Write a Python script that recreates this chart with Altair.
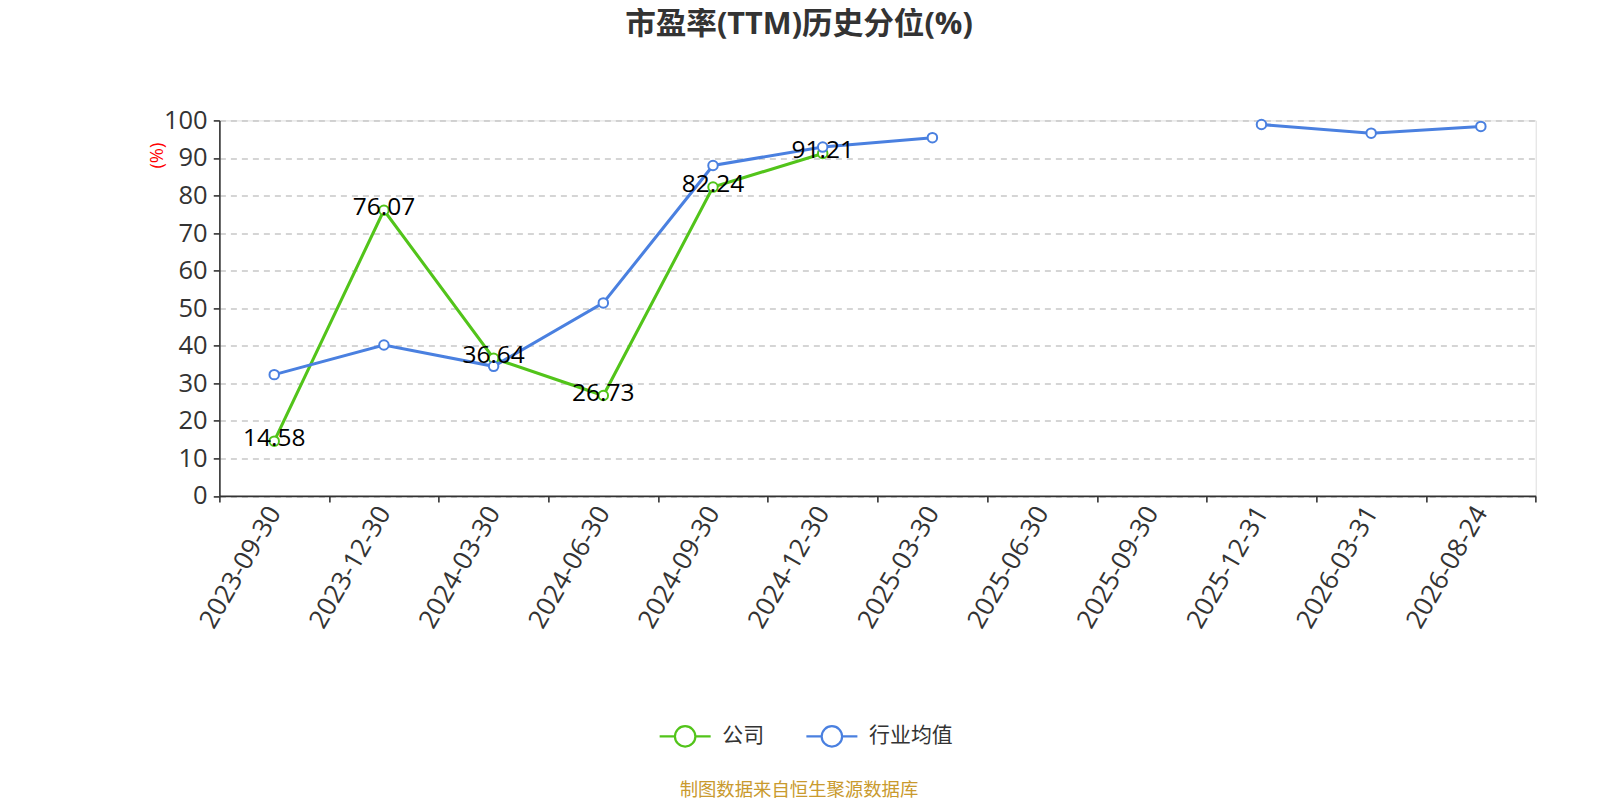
import altair as alt
import pandas as pd

title_text = "市盈率(TTM)历史分位(%)"
source_text = "制图数据来自恒生聚源数据库"
dates = ["2023-09-30", "2023-12-30", "2024-03-30", "2024-06-30", "2024-09-30",
         "2024-12-30", "2025-03-30", "2025-06-30", "2025-09-30", "2025-12-31",
         "2026-03-31", "2026-08-24"]
company = [14.58, 76.07, 36.64, 26.73, 82.24, 91.21, None, None, None, None, None, None]
industry = [32.3, 40.2, 34.5, 51.4, 88.0, 92.9, 95.4, None, None, 98.9, 96.6, 98.4]
series_names = ["公司", "行业均值"]
colors = ["#52c41a", "#4a80e0"]

rows = []
for name, vals in zip(series_names, [company, industry]):
    seg = 0
    prev_null = False
    for d, v in zip(dates, vals):
        if v is None:
            prev_null = True
            continue
        if prev_null:
            seg += 1
            prev_null = False
        rows.append({"date": d, "value": v, "series": name, "seg": f"{name}-{seg}",
                     "label": f"{v:.2f}" if name == "公司" else ""})
df = pd.DataFrame(rows)

FONT = "Open Sans, Noto Sans CJK SC, sans-serif"
CJK = "Noto Sans CJK SC, sans-serif"

# layout (target pixels) and page scale compensation
S = 0.98
def c(v):
    return v / S

PLOT_L, PLOT_T, PLOT_W, PLOT_H = 215, 118, 1290, 368
pad_left = c(PLOT_L) - 8
pad_top = c(PLOT_T) - 8
width = c(PLOT_W)
height = c(PLOT_H)
pad_right = 40
total_h = 795
pad_bottom = total_h - pad_top - height

x_enc = alt.X("date:N", sort=dates, bandPosition=0.5,
              scale=alt.Scale(type="band", domain=dates, paddingInner=0, paddingOuter=0),
              axis=alt.Axis(title=None, tickBand="extent", labelAngle=-60, labelAlign="right",
                            labelBaseline="middle", labelFontSize=c(25.5), labelColor="#333",
                            labelPadding=c(6), tickSize=c(6), tickColor="#333", domainColor="#333",
                            domainWidth=1.6, tickWidth=1.6, grid=False, labelFont=FONT))
y_enc = alt.Y("value:Q", scale=alt.Scale(domain=[0, 100], nice=False),
              axis=alt.Axis(values=list(range(0, 101, 10)), title="(%)", titleColor="red",
                            titleFontSize=c(18), titleFontWeight="normal", titleAngle=-90,
                            titleX=c(153 - PLOT_L), titleY=c(152 - PLOT_T), titleAlign="center",
                            titleBaseline="middle",
                            labelFontSize=c(25), labelColor="#333", labelPadding=c(6), tickSize=c(6),
                            tickColor="#333", domainColor="#333", domainWidth=1.6, tickWidth=1.6,
                            grid=True, gridColor="#c8c8c8", gridDash=[6, 5], gridWidth=1.5,
                            labelFont=FONT, titleFont=FONT))
color_enc = alt.Color("series:N", scale=alt.Scale(domain=series_names, range=colors),
                      legend=alt.Legend(title=None, orient="none",
                                        legendX=c(645) - 8 - pad_left, legendY=c(695) - 8 - pad_top,
                                        direction="horizontal", labelFontSize=c(20.5),
                                        labelColor="#333", labelFont=CJK,
                                        symbolType="M-1,0L-0.42,0M0.42,0L1,0M-0.4,0A0.4,0.4 0 1,1 0.4,0A0.4,0.4 0 1,1 -0.4,0",
                                        symbolSize=c(50) ** 2, symbolStrokeWidth=2.2,
                                        symbolFillColor="white", labelOffset=c(10),
                                        columnPadding=c(36)))

base = alt.Chart(df)
lines = base.mark_line(strokeWidth=c(3)).encode(x=x_enc, y=y_enc, color=color_enc, detail="seg:N")
points = base.mark_point(filled=False, fill="white", size=90, strokeWidth=2, opacity=1).encode(
    x=x_enc, y=y_enc, color=alt.Color("series:N", scale=alt.Scale(domain=series_names, range=colors), legend=None))
labels = base.mark_text(fontSize=c(24), color="black", font=FONT, baseline="middle", dy=-2).encode(
    x=x_enc, y=y_enc, text="label:N")

src = alt.Chart(pd.DataFrame({"t": [source_text]})).mark_text(
    fontSize=c(18), color="#c99a2e", font=CJK, baseline="middle", align="center").encode(
    text="t:N", x=alt.value(c(783 - PLOT_L)), y=alt.value(c(774 - PLOT_T)))

chart = alt.layer(lines, points, labels, src).properties(
    width=width, height=height,
    title=alt.TitleParams(title_text, fontSize=c(30), fontWeight="bold", color="#333", font=FONT,
                          anchor="middle", dx=c(-77), offset=c(96) - c(30)),
    autosize=alt.AutoSizeParams(type="none"),
    padding={"left": pad_left, "top": pad_top, "right": pad_right, "bottom": pad_bottom},
).configure_view(strokeWidth=0, stroke="transparent").configure(background="white")

chart.save("out.html", embed_options={"renderer": "svg", "actions": False})
